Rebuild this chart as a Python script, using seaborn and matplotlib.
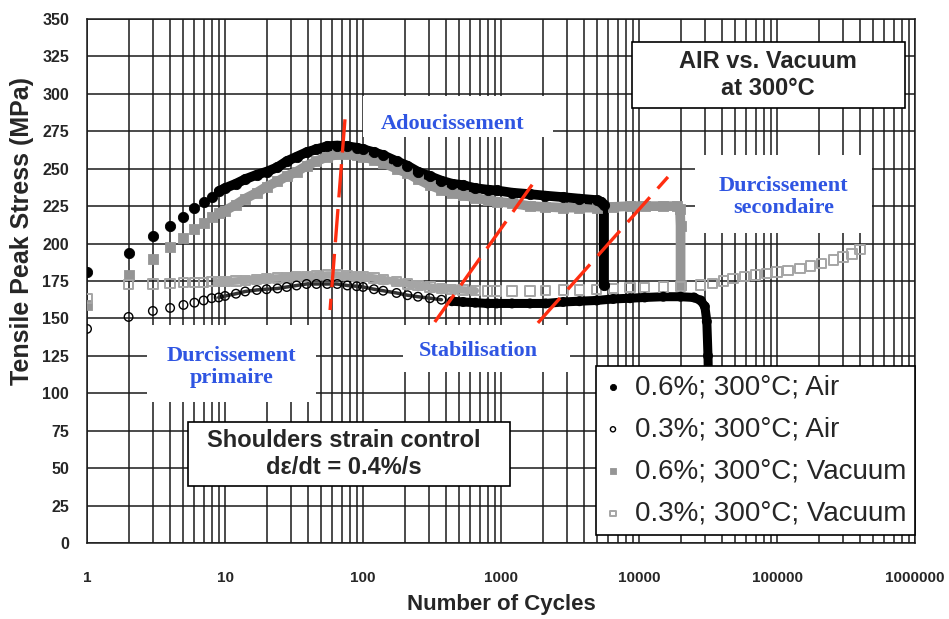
#
# Tensile peak stress vs number of cycles, air vs vacuum at 300 C
#

import numpy as np
import pandas as pd
import matplotlib
matplotlib.use("Agg")
import matplotlib.pyplot as plt
from matplotlib.patches import Rectangle
from matplotlib.ticker import FixedLocator, FuncFormatter, NullFormatter, LogLocator
import seaborn as sns

# --- data ---
air06_n = [1, 2, 3, 4, 5, 6, 7, 8, 9, 10, 12, 14, 17, 20, 24, 28, 33, 39, 46, 55, 65, 77, 90,
           100, 120, 140, 175, 210, 250, 305, 370, 440, 531, 650, 800, 930, 1200, 1620, 2100,
           2820, 3700, 4930, 5300, 5550, 5550]
air06_s = [181, 194, 205, 212, 218, 224, 228, 231, 235, 237, 240, 243, 246, 248, 251, 255, 258,
           261, 263, 265, 265.5, 265, 264, 263, 261, 259, 255, 252, 248, 245, 242, 240, 239, 237,
           236, 235.5, 234, 233, 232, 231, 230, 229, 228, 226, 172]

air03_n = [1, 2, 3, 4, 5, 6, 7, 8, 9, 10, 12, 14, 17, 20, 24, 28, 33, 39, 46, 55, 65, 77, 90,
           100, 120, 140, 175, 210, 250, 305, 370, 440, 531, 650, 800, 930, 1200, 1620, 2100,
           2820, 3700, 4930, 6500, 8600, 11000, 15000, 20000, 25000, 28000, 30000, 31000,
           31600, 32000]
air03_s = [143, 151, 155, 157, 159, 160.5, 162, 163.5, 164, 165, 166.5, 168, 169, 169.5, 170,
           171, 172, 173, 173, 173, 173, 172, 171.5, 171, 169.5, 168.5, 167, 165.5, 164.5,
           163.5, 162.5, 161.5, 161, 160.5, 160, 160, 160, 160, 160, 161, 161.5, 162, 163,
           163.5, 164, 164.5, 164.5, 164, 162, 158, 148, 125, 100]

vac06_n = [1, 2, 3, 4, 5, 6, 7, 8, 9, 10, 12, 14, 17, 20, 24, 28, 33, 39, 46, 55, 65, 77, 90,
           100, 120, 140, 175, 210, 250, 305, 370, 440, 531, 650, 800, 930, 1200, 1620, 2100,
           2820, 3700, 4930, 6500, 8600, 11000, 15000, 19000, 19800, 20000, 20000]
vac06_s = [159, 179, 190, 197.5, 204, 209.5, 213.5, 217.5, 220.5, 222, 226, 230, 234, 238,
           241.5, 245, 248, 252, 255, 258, 259.5, 260, 259, 258, 256, 254, 250, 247, 243, 239,
           236, 234, 232.5, 230.5, 229, 228, 227, 225, 224.5, 224, 224, 224, 224.5, 225, 225,
           225, 225, 223, 212, 172]

vac03_n = [1, 2, 3, 4, 5, 6, 7, 8, 9, 10, 12, 14, 17, 20, 24, 28, 33, 39, 46, 55, 65, 77, 90,
           100, 120, 140, 175, 210, 250, 305, 370, 440, 531, 650, 800, 930, 1200, 1620, 2100,
           2820, 3700, 4930, 6500, 8600, 11000, 15000, 20000, 27800, 34000, 41000, 48000,
           58000, 70000, 84000, 100000, 120000, 147000, 175000, 210000, 257000, 300000,
           350000, 400000]
vac03_s = [163.5, 172.5, 173, 173.5, 174, 174, 174, 174.5, 174.5, 174.5, 175, 175.5, 176,
           176.8, 177, 177.5, 178, 178, 178.5, 179, 179, 178.5, 178, 178, 177, 176, 174.5, 173,
           172, 171, 170, 169.5, 169, 168.5, 168.3, 168.3, 168.3, 168.3, 168.5, 169, 169, 169.5,
           170, 170.5, 170.8, 171, 171.5, 172.3, 173.5, 175, 176.8, 178, 179, 180, 181, 182,
           183.5, 185, 186.5, 189, 191, 193, 196]

labels = ["0.6%; 300°C; Air", "0.3%; 300°C; Air", "0.6%; 300°C; Vacuum", "0.3%; 300°C; Vacuum"]

# red dashed phase separators (cycles, MPa)
sep_n = [[74, 57.7], [331, 1820], [1850, 16200]]
sep_s = [[283, 155.6], [147.6, 243.8], [147, 244.5]]

y_ticks = list(range(0, 351, 25))
x_ticks = [1, 10, 100, 1000, 10000, 100000, 1000000]

GREY = "#959595"
LGREY = "#a5a5a5"
BLUE = "#2f55e2"
RED = "#ff2d10"

sns.set_style("white")
plt.rcParams["font.family"] = ["Liberation Sans", "DejaVu Sans"]

fig = plt.figure(figsize=(9.49, 6.19), dpi=100)
ax = fig.add_axes([0.0917, 0.1228, 0.8725, 0.8465])

air06 = pd.DataFrame({"n": air06_n, "s": air06_s})
air03 = pd.DataFrame({"n": air03_n, "s": air03_s})
vac06 = pd.DataFrame({"n": vac06_n, "s": vac06_s})
vac03 = pd.DataFrame({"n": vac03_n, "s": vac03_s})

# dense parts look like thick bands
sns.lineplot(data=vac06[vac06.n >= 9], x="n", y="s", estimator=None, sort=False,
             color=GREY, lw=7, ax=ax, zorder=3)
sns.lineplot(data=vac03[(vac03.n >= 9) & (vac03.n <= 700)], x="n", y="s", estimator=None,
             sort=False, color=LGREY, lw=5.5, ax=ax, zorder=3)
sns.lineplot(data=air06[air06.n >= 9], x="n", y="s", estimator=None, sort=False,
             color="black", lw=7, ax=ax, zorder=4)
sns.lineplot(data=air03[(air03.n >= 9) & (air03.n <= 400)], x="n", y="s", estimator=None,
             sort=False, color="#333333", lw=2.5, ax=ax, zorder=4)
sns.lineplot(data=air03[air03.n >= 400], x="n", y="s", estimator=None, sort=False,
             color="black", lw=6.5, ax=ax, zorder=4)

sns.scatterplot(data=air06, x="n", y="s", marker="o", s=55, color="black",
                edgecolor="black", label=labels[0], ax=ax, zorder=5)
sns.scatterplot(data=air03, x="n", y="s", marker="o", s=38, facecolor="none",
                edgecolor="black", linewidth=1.0, label=labels[1], ax=ax, zorder=5)
sns.scatterplot(data=vac06, x="n", y="s", marker="s", s=55, color=GREY,
                edgecolor=GREY, label=labels[2], ax=ax, zorder=4)
sns.scatterplot(data=vac03, x="n", y="s", marker="s", s=45, facecolor="none",
                edgecolor=LGREY, linewidth=1.4, label=labels[3], ax=ax, zorder=4)

for xs, ys in zip(sep_n, sep_s):
    ax.plot(xs, ys, color=RED, lw=2.4, ls=(0, (10, 3.5)), zorder=6)

ax.set_xscale("log")
ax.set_xlim(1, 1000000)
ax.set_ylim(0, 350)
ax.xaxis.set_major_locator(FixedLocator(x_ticks))
ax.xaxis.set_major_formatter(FuncFormatter(lambda v, p: f"{int(round(v))}"))
ax.xaxis.set_minor_locator(LogLocator(base=10, subs=np.arange(2, 10)))
ax.xaxis.set_minor_formatter(NullFormatter())
ax.set_yticks(y_ticks)

ax.set_axisbelow(True)
ax.grid(True, which="both", axis="x", color="#1a1a1a", lw=1.1)
ax.grid(True, which="major", axis="y", color="#1a1a1a", lw=1.1)
for sp in ax.spines.values():
    sp.set_color("#1a1a1a")
    sp.set_linewidth(1.1)

ax.tick_params(axis="x", which="both", direction="out", length=5, width=1, pad=15,
               labelsize=11)
ax.tick_params(axis="y", which="major", direction="out", length=5, width=1, pad=8,
               labelsize=11.5)
for lab in ax.get_xticklabels() + ax.get_yticklabels():
    lab.set_fontweight("bold")

ax.set_xlabel("Number of Cycles", fontsize=16, fontweight="bold", labelpad=7)
ax.set_ylabel("Tensile Peak Stress (MPa)", fontsize=18, fontweight="bold", va="center")
ax.yaxis.set_label_coords(-0.0785, 0.595)

# white boxes that hide the grid under the notes
boxes = [
    (0.658, 0.830, 0.330, 0.126, "black"),   # AIR vs. Vacuum
    (0.122, 0.109, 0.389, 0.122, "black"),   # Shoulders strain control
    (0.333, 0.775, 0.230, 0.078, "none"),    # Adoucissement
    (0.734, 0.592, 0.214, 0.148, "none"),    # Durcissement secondaire
    (0.072, 0.269, 0.205, 0.147, "none"),    # Durcissement primaire
    (0.382, 0.326, 0.201, 0.090, "none"),    # Stabilisation
]
for x0, y0, w, h, ec in boxes:
    ax.add_patch(Rectangle((x0, y0), w, h, transform=ax.transAxes, facecolor="white",
                           edgecolor=ec, lw=1.2, zorder=2))

ax.text(0.8225, 0.893, "AIR vs. Vacuum\nat 300°C", transform=ax.transAxes, ha="center",
        va="center", fontsize=17, fontweight="bold", linespacing=1.25, zorder=7)
ax.text(0.310, 0.170, "Shoulders strain control\ndε/dt = 0.4%/s", transform=ax.transAxes,
        ha="center", va="center", fontsize=17, fontweight="bold", linespacing=1.2, zorder=7)

serif = ["Liberation Serif", "DejaVu Serif"]
notes = [
    (0.441, 0.800, "Adoucissement"),
    (0.841, 0.660, "Durcissement\nsecondaire"),
    (0.175, 0.336, "Durcissement\nprimaire"),
    (0.472, 0.366, "Stabilisation"),
]
for tx, ty, txt in notes:
    ax.text(tx, ty, txt, transform=ax.transAxes, ha="center", va="center", fontsize=16,
            fontweight="bold", color=BLUE, family=serif, linespacing=1.1, zorder=7)

leg = ax.legend(loc="lower right", bbox_to_anchor=(1.0, 0.015), fontsize=20, frameon=True,
                fancybox=False, edgecolor="black", framealpha=1, markerscale=0.6,
                handlelength=0.6, handletextpad=0.5, labelspacing=0.58, borderpad=0.3,
                borderaxespad=0)
leg.get_frame().set_linewidth(1.2)
leg.set_zorder(10)

fig.savefig("out.png", dpi=100)
